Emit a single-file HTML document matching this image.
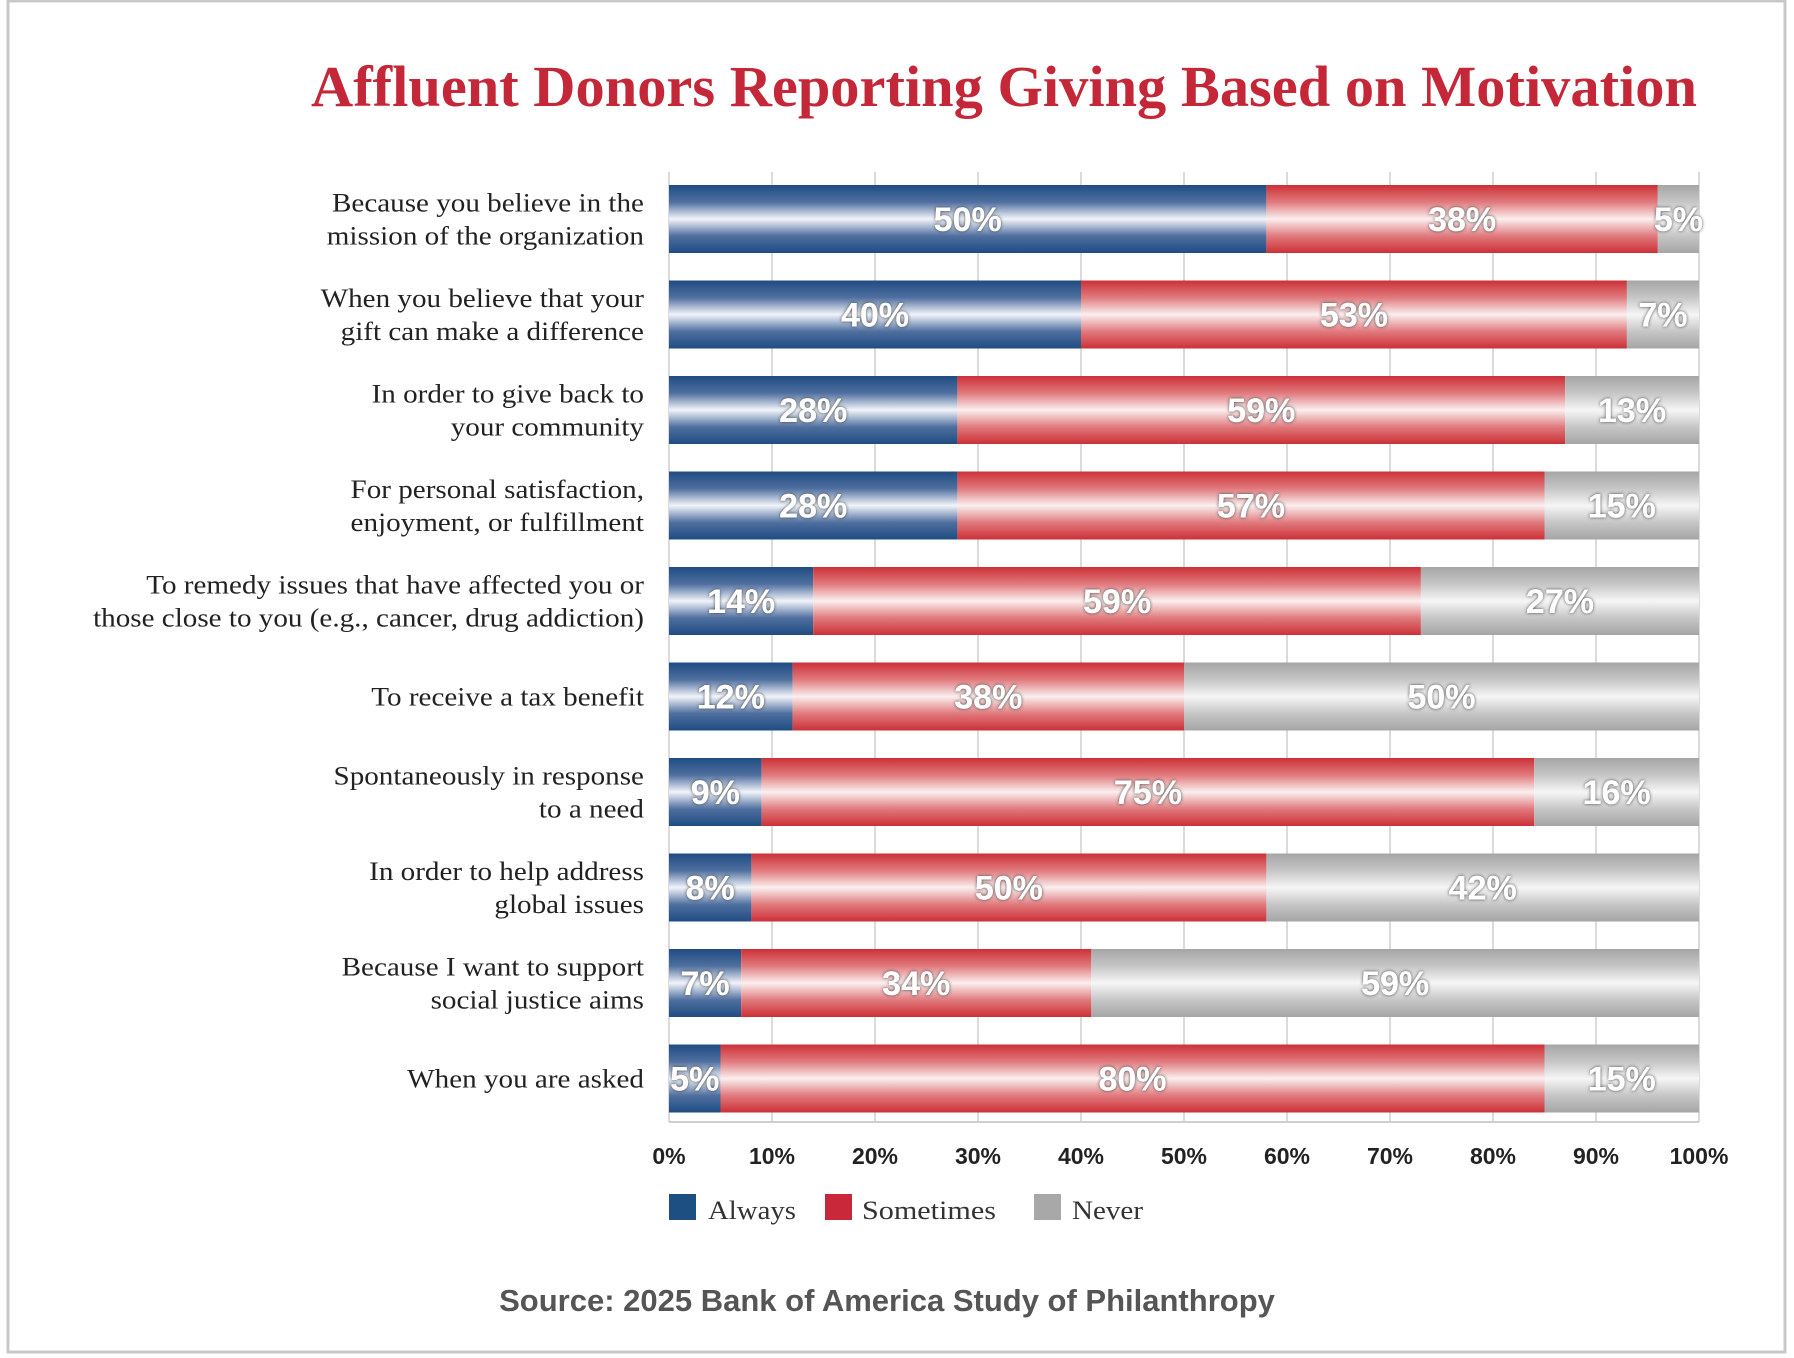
<!DOCTYPE html>
<html><head><meta charset="utf-8"><style>
html,body{margin:0;padding:0;background:#fff;}
svg{display:block;}
</style></head><body>
<svg id="chart" width="1794" height="1358" xmlns="http://www.w3.org/2000/svg">
<defs>
<linearGradient id="gBlue" x1="0" y1="0" x2="0" y2="1">
<stop offset="0" stop-color="#1f4c83"/><stop offset="0.25" stop-color="#4f6f9f"/><stop offset="0.5" stop-color="#f2f4fa"/><stop offset="0.75" stop-color="#4f6f9f"/><stop offset="1" stop-color="#1f4c83"/></linearGradient>
<linearGradient id="gRed" x1="0" y1="0" x2="0" y2="1">
<stop offset="0" stop-color="#cc3037"/><stop offset="0.25" stop-color="#e07a7d"/><stop offset="0.5" stop-color="#fbefef"/><stop offset="0.75" stop-color="#e07a7d"/><stop offset="1" stop-color="#cc3037"/></linearGradient>
<linearGradient id="gGray" x1="0" y1="0" x2="0" y2="1">
<stop offset="0" stop-color="#a5a5a5"/><stop offset="0.25" stop-color="#c6c6c6"/><stop offset="0.5" stop-color="#f6f6f6"/><stop offset="0.75" stop-color="#c6c6c6"/><stop offset="1" stop-color="#a5a5a5"/></linearGradient>
<filter id="sh" x="-20%" y="-20%" width="140%" height="140%"><feDropShadow dx="0" dy="0" stdDeviation="1.6" flood-color="#333" flood-opacity="0.9"/></filter>
</defs>
<rect x="8" y="1" width="1777" height="1351" fill="none" stroke="#c8c8c8" stroke-width="3"/>
<text x="311" y="106" textLength="1386" lengthAdjust="spacingAndGlyphs" font-family="Liberation Serif, serif" font-weight="bold" font-size="58" fill="#c42838">Affluent Donors Reporting Giving Based on Motivation</text>
<g id="grid"></g><g id="bars"></g><g id="cats" transform="translate(644,0) scale(1.12,1) translate(-644,0)"></g><g id="ticks"></g>
<g font-family="Liberation Serif, serif" font-size="26" fill="#333">
<rect x="669" y="1194" width="27" height="26" fill="#1d4f82"/>
<text x="708" y="1219" textLength="88" lengthAdjust="spacingAndGlyphs">Always</text>
<rect x="825" y="1194" width="27" height="26" fill="#c8283a"/>
<text x="862" y="1219" textLength="134" lengthAdjust="spacingAndGlyphs">Sometimes</text>
<rect x="1034" y="1194" width="27" height="26" fill="#a8a8a8"/>
<text x="1072" y="1219" textLength="71" lengthAdjust="spacingAndGlyphs">Never</text>
</g>
<text x="887" y="1311" text-anchor="middle" font-family="Liberation Sans, sans-serif" font-weight="bold" font-size="31" fill="#555">Source: 2025 Bank of America Study of Philanthropy</text>
</svg>
<script>
const categories = [
 ["Because you believe in the","mission of the organization"],
 ["When you believe that your","gift can make a difference"],
 ["In order to give back to","your community"],
 ["For personal satisfaction,","enjoyment, or fulfillment"],
 ["To remedy issues that have affected you or","those close to you (e.g., cancer, drug addiction)"],
 ["To receive a tax benefit"],
 ["Spontaneously in response","to a need"],
 ["In order to help address","global issues"],
 ["Because I want to support","social justice aims"],
 ["When you are asked"]
];
const alwaysVals = [58,40,28,28,14,12,9,8,7,5];
const sometimesVals = [38,53,59,57,59,38,75,50,34,80];
const alwaysLabels = ["50%","40%","28%","28%","14%","12%","9%","8%","7%","5%"];
const sometimesLabels = ["38%","53%","59%","57%","59%","38%","75%","50%","34%","80%"];
const neverLabels = ["5%","7%","13%","15%","27%","50%","16%","42%","59%","15%"];
const tickVals = [0,10,20,30,40,50,60,70,80,90,100];
const tickLabels = ["0%","10%","20%","30%","40%","50%","60%","70%","80%","90%","100%"];

const NS="http://www.w3.org/2000/svg";
const X0=669,X1=1699,T=172,B=1122,Y0=185,PITCH=95.5,BH=68;
const x=v=>X0+(X1-X0)*v/100;
const yRow=i=>Y0+i*PITCH;
function mk(tag,attrs,parent){const e=document.createElementNS(NS,tag);for(const k in attrs)e.setAttribute(k,attrs[k]);parent.appendChild(e);return e;}
const grid=document.getElementById('grid'),bars=document.getElementById('bars'),cats=document.getElementById('cats'),ticks=document.getElementById('ticks');
tickVals.forEach((v,i)=>{
 const l=mk('line',{x1:x(v),x2:x(v),y1:T,y2:B,stroke:'#cfcfcf','stroke-width':1.5},grid);
 
 
 const t=mk('text',{x:x(v),y:1164,'text-anchor':'middle','font-family':'Liberation Sans, sans-serif','font-weight':'bold','font-size':23,fill:'#222'},ticks);
 t.textContent=tickLabels[i];
 
 
});
const bl=mk('line',{x1:X0,x2:X1,y1:B,y2:B,stroke:'#cfcfcf','stroke-width':2},grid);


categories.forEach((c,i)=>{
 const y=yRow(i),a=alwaysVals[i],s=sometimesVals[i];
 const segs=[[0,a,'url(#gBlue)',alwaysLabels[i],'always'],[a,Math.min(100,a+s),'url(#gRed)',sometimesLabels[i],'sometimes'],[Math.min(100,a+s),100,'url(#gGray)',neverLabels[i],'never']];
 segs.forEach(sg=>{
  const r=mk('rect',{x:x(sg[0]),y:y,width:Math.max(0,x(sg[1])-x(sg[0])),height:BH,fill:sg[2]},bars);
  
  
  const cx=(x(sg[0])+x(sg[1]))/2;
  const t=mk('text',{x:cx,y:y+BH/2+12,'text-anchor':'middle','font-family':'Liberation Sans Narrow, Liberation Sans, sans-serif','font-weight':'bold','font-size':34,fill:'#fff',filter:'url(#sh)'},bars);
  t.textContent=sg[3];
  
  
 });
 const cy=y+BH/2;
 c.forEach((line,j)=>{
  const ly=cy+9+(j-(c.length-1)/2)*33;
  const t=mk('text',{x:644,y:ly,'text-anchor':'end','font-family':'Liberation Serif, serif','font-size':26,fill:'#222'},cats);
  t.textContent=line;
  
  
 });
});
</script>
</body></html>
